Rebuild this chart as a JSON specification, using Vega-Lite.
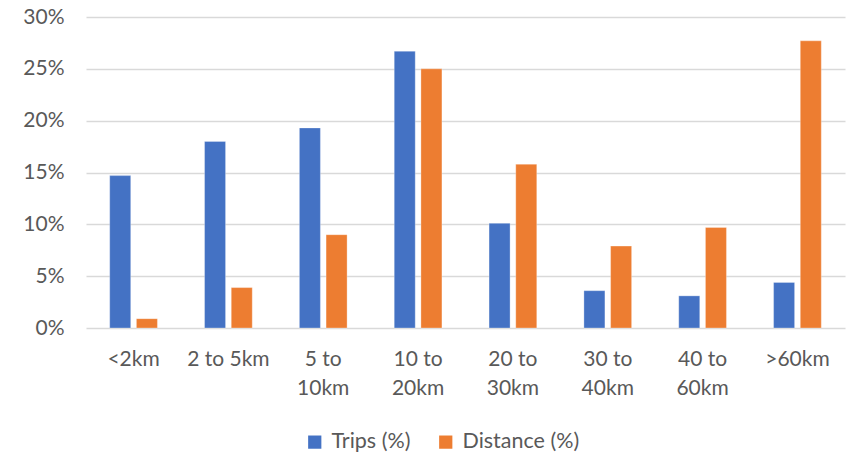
{
  "$schema": "https://vega.github.io/schema/vega-lite/v6.json",
  "width": 759,
  "height": 311,
  "autosize": "none",
  "padding": {"left": 86, "top": 17, "right": 1, "bottom": 126},
  "background": "white",
  "config": {
    "view": {"stroke": null},
    "font": "Lato",
    "axis": {"labelFont": "Lato", "labelColor": "#595959", "labelFontSize": 21},
    "legend": {"labelFont": "Lato", "labelColor": "#595959", "labelFontSize": 21.5}
  },
  "data": {
    "values": [
      {"range": "<2km", "series": "Trips (%)", "value": 0.147},
      {"range": "<2km", "series": "Distance (%)", "value": 0.009},
      {"range": "2 to 5km", "series": "Trips (%)", "value": 0.180},
      {"range": "2 to 5km", "series": "Distance (%)", "value": 0.039},
      {"range": "5 to 10km", "series": "Trips (%)", "value": 0.193},
      {"range": "5 to 10km", "series": "Distance (%)", "value": 0.090},
      {"range": "10 to 20km", "series": "Trips (%)", "value": 0.267},
      {"range": "10 to 20km", "series": "Distance (%)", "value": 0.250},
      {"range": "20 to 30km", "series": "Trips (%)", "value": 0.101},
      {"range": "20 to 30km", "series": "Distance (%)", "value": 0.158},
      {"range": "30 to 40km", "series": "Trips (%)", "value": 0.036},
      {"range": "30 to 40km", "series": "Distance (%)", "value": 0.079},
      {"range": "40 to 60km", "series": "Trips (%)", "value": 0.031},
      {"range": "40 to 60km", "series": "Distance (%)", "value": 0.097},
      {"range": ">60km", "series": "Trips (%)", "value": 0.044},
      {"range": ">60km", "series": "Distance (%)", "value": 0.277}
    ]
  },
  "mark": {"type": "bar", "stroke": "white", "strokeWidth": 0.6, "strokeOpacity": 0.5},
  "encoding": {
    "x": {
      "field": "range",
      "type": "nominal",
      "sort": ["<2km", "2 to 5km", "5 to 10km", "10 to 20km", "20 to 30km", "30 to 40km", "40 to 60km", ">60km"],
      "scale": {"paddingInner": 0.497, "paddingOuter": 0.25},
      "axis": {
        "title": null,
        "domain": false,
        "ticks": false,
        "labelAngle": 0,
        "labelPadding": 20,
        "labelLineHeight": 29,
        "labelBaseline": "top",
        "labelExpr": "datum.label == '2 to 5km' ? datum.label : split(replace(datum.label, ' to ', ' to|'), '|')"
      }
    },
    "xOffset": {
      "field": "series",
      "type": "nominal",
      "sort": ["Trips (%)", "Distance (%)"],
      "scale": {"paddingInner": 0.213, "paddingOuter": 0}
    },
    "y": {
      "field": "value",
      "type": "quantitative",
      "scale": {"domain": [0, 0.3], "nice": false},
      "axis": {
        "title": null,
        "format": ".0%",
        "values": [0, 0.05, 0.1, 0.15, 0.2, 0.25, 0.3],
        "domain": false,
        "ticks": false,
        "labelPadding": 22,
        "grid": true,
        "gridColor": "#d9d9d9",
        "gridWidth": 1.3
      }
    },
    "color": {
      "field": "series",
      "type": "nominal",
      "sort": ["Trips (%)", "Distance (%)"],
      "scale": {"domain": ["Trips (%)", "Distance (%)"], "range": ["#4472C4", "#ED7D31"]},
      "legend": {
        "title": null,
        "orient": "none",
        "direction": "horizontal",
        "legendX": 218,
        "legendY": 414,
        "symbolType": "square",
        "symbolSize": 175,
        "symbolStrokeWidth": 0,
        "symbolOpacity": 1,
        "labelOffset": 6,
        "columnPadding": 24
      }
    }
  }
}
